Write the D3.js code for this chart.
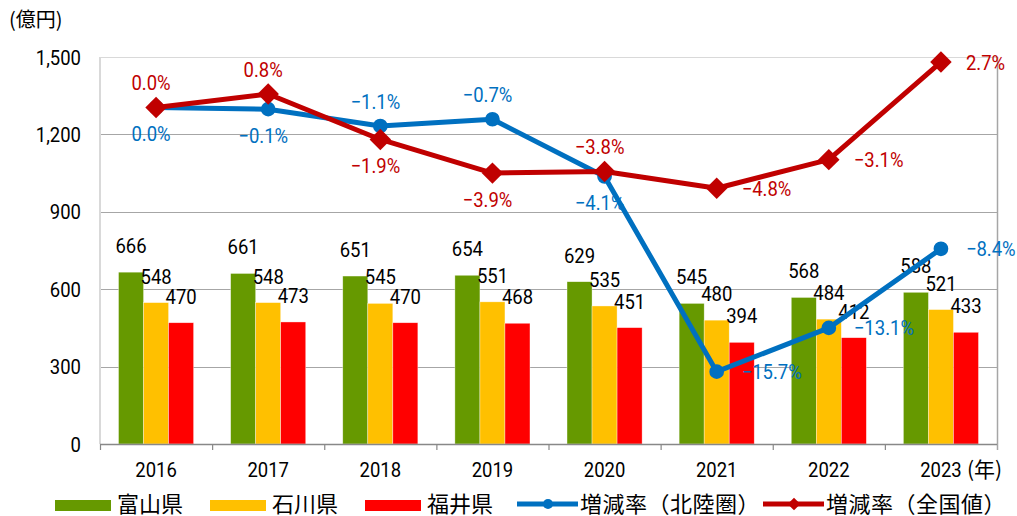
<!DOCTYPE html>
<html>
<head>
<meta charset="utf-8">
<script src="https://cdn.jsdelivr.net/npm/d3@7"></script>
<style>
  body { margin: 0; background: #fff; }
  svg { display: block; font-family: Roboto, "Liberation Sans", sans-serif; }
  .jp { font-family: "Noto Sans CJK JP", sans-serif; }
</style>
</head>
<body>
<svg id="chart" width="1017" height="516"></svg>
<script>
// data
const years = ['2016', '2017', '2018', '2019', '2020', '2021', '2022', '2023'];
const prefs = ['富山県', '石川県', '福井県'];
const toyama = [666, 661, 651, 654, 629, 545, 568, 588];
const ishikawa = [548, 548, 545, 551, 535, 480, 484, 521];
const fukui = [470, 473, 470, 468, 451, 394, 412, 433];
const rateHokuriku = [0.0, -0.1, -1.1, -0.7, -4.1, -15.7, -13.1, -8.4];
const rateNational = [0.0, 0.8, -1.9, -3.9, -3.8, -4.8, -3.1, 2.7];
const yTicks = [0, 300, 600, 900, 1200, 1500];

// where each rate label sits relative to its marker
const posHokuriku = ['below', 'below', 'above', 'above', 'below', 'right', 'right', 'right'];
const posNational = ['above', 'above', 'below', 'below', 'above', 'right', 'right', 'right'];

const barColors = ['#669900', '#FFC000', '#FF0000'];
const blue = '#0070C0', red = '#C00000';

const svg = d3.select('#chart');
const pLeft = 100, pRight = 997, pTop = 57, pBottom = 444;
const FS = 21, SX = 0.88; // numbers: tall, narrow

const x0 = d3.scaleBand().domain(years).range([pLeft, pRight]).padding(0);
const x1 = d3.scaleBand().domain(prefs).range([0, x0.bandwidth()]).paddingInner(0).paddingOuter(0.74);
const y = d3.scaleLinear().domain([0, 1500]).range([pBottom, pTop]);
const y2 = d3.scaleLinear().domain([-20, 3]).range([pBottom, pTop]);
const cx = (d, i) => x0(years[i]) + x0.bandwidth() / 2;

// place a text with a narrowed glyph shape
function place(sel, fx, fy) {
  return sel.attr('transform', (d, i) => `translate(${fx(d, i)},${fy(d, i)}) scale(${SX},1)`)
    .attr('font-size', FS);
}

// gridlines
svg.append('g').selectAll('line').data(yTicks.filter(d => d > 0)).enter().append('line')
  .attr('x1', pLeft).attr('x2', pRight)
  .attr('y1', d => Math.round(y(d)) + 0.5).attr('y2', d => Math.round(y(d)) + 0.5)
  .attr('stroke', d => d === 1500 ? '#d9d9d9' : '#a6a6a6').attr('stroke-width', 1);

// left axis (labels only + light line)
svg.append('line').attr('x1', pLeft).attr('x2', pLeft).attr('y1', pTop).attr('y2', pBottom)
  .attr('stroke', '#d9d9d9').attr('stroke-width', 2);
place(svg.append('g').selectAll('text').data(yTicks).enter().append('text'), () => 81, d => y(d))
  .attr('dy', '0.36em').attr('text-anchor', 'end').attr('fill', '#000')
  .text(d3.format(','));

// right frame line
svg.append('line').attr('x1', pRight + 0.5).attr('x2', pRight + 0.5).attr('y1', pTop).attr('y2', pBottom + 6)
  .attr('stroke', '#a6a6a6').attr('stroke-width', 1.5);

// bars
const series = [toyama, ishikawa, fukui];
const groups = svg.append('g').selectAll('g').data(years).enter().append('g')
  .attr('transform', d => `translate(${x0(d)},0)`);
groups.selectAll('rect').data((d, i) => series.map((s, k) => ({ k, v: s[i] }))).enter().append('rect')
  .attr('x', d => x1(prefs[d.k])).attr('width', x1.bandwidth())
  .attr('y', d => y(d.v)).attr('height', d => y(0) - y(d.v))
  .attr('fill', d => barColors[d.k]).attr('stroke', 'rgba(255,255,255,0.6)').attr('stroke-width', 0.6);
place(groups.selectAll('text').data((d, i) => series.map((s, k) => ({ k, v: s[i] }))).enter().append('text'),
  d => x1(prefs[d.k]) + x1.bandwidth() / 2, d => y(d.v) - 19)
  .attr('text-anchor', 'middle').attr('fill', '#000')
  .text(d => d.v);

// bottom axis
const xAxis = svg.append('g').attr('transform', `translate(0,${pBottom})`);
xAxis.append('line').attr('x1', pLeft).attr('x2', pRight).attr('y1', 0.5).attr('y2', 0.5)
  .attr('stroke', '#888').attr('stroke-width', 1.5);
xAxis.selectAll('.tk').data(years).enter().append('line').attr('class', 'tk')
  .attr('x1', d => x0(d) + 0.5).attr('x2', d => x0(d) + 0.5).attr('y1', 0).attr('y2', 6)
  .attr('stroke', '#888').attr('stroke-width', 1.2);
place(xAxis.selectAll('.yl').data(years).enter().append('text').attr('class', 'yl'),
  d => x0(d) + x0.bandwidth() / 2, () => 33)
  .attr('text-anchor', 'middle').attr('fill', '#000')
  .text(d => d);
xAxis.append('text').attr('class', 'jp')
  .attr('x', x0('2023') + x0.bandwidth() / 2 + 26).attr('y', 33)
  .attr('font-size', 21).attr('fill', '#000').text('(年)');

// rate lines
const fmt = v => d3.format('.1f')(v) + '%';
function drawRate(vals, color, marker, pos) {
  const line = d3.line().x((d, i) => cx(d, i)).y(d => y2(d));
  svg.append('path').datum(vals).attr('d', line)
    .attr('fill', 'none').attr('stroke', color).attr('stroke-width', 5).attr('stroke-linejoin', 'round');
  const m = svg.append('g').selectAll('path').data(vals).enter().append('path')
    .attr('fill', color);
  if (marker === 'circle') {
    m.attr('d', d3.symbol(d3.symbolCircle, 170)).attr('transform', (d, i) => `translate(${cx(d, i)},${y2(d)})`);
  } else {
    m.attr('d', d3.symbol(d3.symbolSquare, 230)).attr('transform', (d, i) => `translate(${cx(d, i)},${y2(d)}) rotate(45)`);
  }
  return vals.map((v, i) => ({ v, i, p: pos[i], color }));
}
const lblBlue = drawRate(rateHokuriku, blue, 'circle', posHokuriku);
const lblRed = drawRate(rateNational, red, 'diamond', posNational);

place(svg.append('g').selectAll('text').data(lblBlue.concat(lblRed)).enter().append('text'),
  d => d.p === 'right' ? cx(d.v, d.i) + 25 : cx(d.v, d.i) - 5,
  d => y2(d.v) + (d.p === 'above' ? -17 : d.p === 'below' ? 34 : 0))
  .attr('dy', d => d.p === 'right' ? '0.36em' : 0)
  .attr('text-anchor', d => d.p === 'right' ? 'start' : 'middle')
  .attr('fill', d => d.color)
  .text(d => fmt(d.v));

// unit label
svg.append('text').attr('class', 'jp').attr('x', 9).attr('y', 27)
  .attr('font-size', 20).attr('fill', '#000').text('(億円)');

// legend
const leg = svg.append('g');
const swX = [55, 210, 365];
prefs.forEach((p, k) => {
  leg.append('rect').attr('x', swX[k]).attr('y', 500).attr('width', 56).attr('height', 11).attr('fill', barColors[k]);
  leg.append('text').attr('class', 'jp').attr('x', swX[k] + 62).attr('y', 512)
    .attr('font-size', 22).attr('fill', '#000').text(p);
});
const lineLeg = [
  { x: 517, color: blue, marker: 'circle', label: '増減率（北陸圏）' },
  { x: 763, color: red, marker: 'diamond', label: '増減率（全国値）' }
];
lineLeg.forEach(l => {
  leg.append('line').attr('x1', l.x).attr('x2', l.x + 61).attr('y1', 504).attr('y2', 504)
    .attr('stroke', l.color).attr('stroke-width', 5);
  const mk = leg.append('path').attr('fill', l.color);
  if (l.marker === 'circle') {
    mk.attr('d', d3.symbol(d3.symbolCircle, 80)).attr('transform', `translate(${l.x + 31},504)`);
  } else {
    mk.attr('d', d3.symbol(d3.symbolSquare, 80)).attr('transform', `translate(${l.x + 31},504) rotate(45)`);
  }
  leg.append('text').attr('class', 'jp').attr('x', l.x + 63).attr('y', 512)
    .attr('font-size', 22).attr('letter-spacing', 0.5).attr('fill', '#000').text(l.label);
});
</script>
</body>
</html>
